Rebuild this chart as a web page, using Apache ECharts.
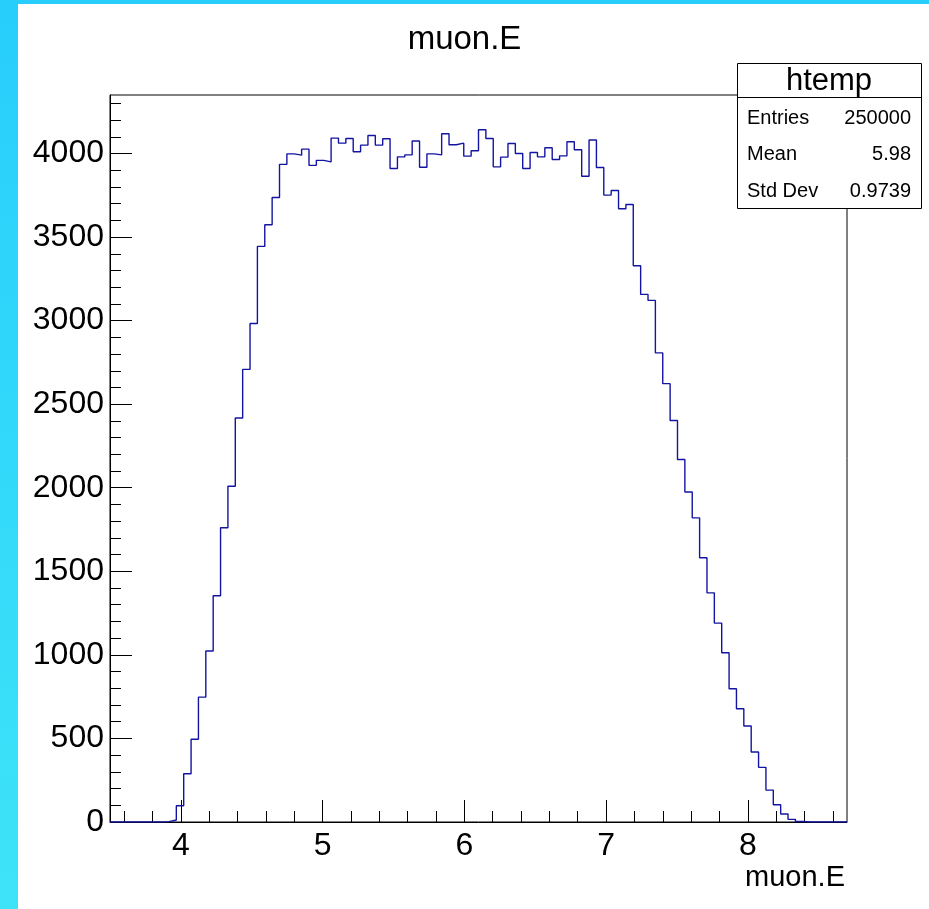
<!DOCTYPE html>
<html>
<head>
<meta charset="utf-8">
<title>muon.E</title>
<script src="https://cdn.jsdelivr.net/npm/echarts@6/dist/echarts.min.js"></script>
<style>
  html, body { margin: 0; padding: 0; background: #ffffff; }
  #chart { width: 929px; height: 909px; }
</style>
</head>
<body>
<div id="chart"></div>
<script>
// Histogram binning: 100 bins from 3.5 to 8.7
const binLow = 3.5;
const binWidth = 0.052;
const xMin = 3.5;
const xMax = 8.7;
const yMin = 0;
const yMax = 4350;

// Bin contents of htemp (muon.E)
const counts = [
  0, 0, 0, 0, 0, 0, 0, 2, 12, 97,
  289, 495, 747, 1023, 1354, 1761, 2009, 2417, 2708, 2983,
  3444, 3574, 3737, 3935, 3998, 3990, 4026, 3929, 3959, 3950,
  4092, 4062, 4090, 4010, 4050, 4108, 4050, 4088, 3910, 3980,
  3992, 4075, 3918, 3998, 3992, 4118, 4052, 4062, 3984, 4016,
  4142, 4090, 3920, 3978, 4060, 4000, 3910, 4006, 3980, 4034,
  3964, 3986, 4070, 4022, 3864, 4081, 3916, 3751, 3779, 3669,
  3695, 3328, 3157, 3121, 2807, 2623, 2402, 2169, 1975, 1820,
  1581, 1371, 1190, 1013, 797, 678, 574, 419, 327, 191,
  103, 48, 16, 3, 0, 0, 0, 0, 0, 0
];

// Axis tick labels
const xTickLabels = [4, 5, 6, 7, 8];
const yTickLabels = [0, 500, 1000, 1500, 2000, 2500, 3000, 3500, 4000];

// Statistics box contents
const statsTitle = 'htemp';
const statsNames = ['Entries', 'Mean', 'Std Dev'];
const statsValues = ['250000', '5.98', '0.9739'];

// Minor tick positions between the labelled ticks
const xMinorTicks = [];
for (let k = 18; k <= 43; k++) {
  const v = +(k * 0.2).toFixed(1);
  if (v > xMin && v < xMax && Math.abs(v - Math.round(v)) > 1e-6) xMinorTicks.push(v);
}
const yMinorTicks = [];
for (let v = 100; v < yMax; v += 100) {
  if (v % 500 !== 0) yMinorTicks.push(v);
}

// Step outline: one point per bin low edge, plus the closing upper edge
const histPoints = counts.map((c, i) => [+(binLow + i * binWidth).toFixed(4), c]);
histPoints.push([+(binLow + counts.length * binWidth).toFixed(4), counts[counts.length - 1]]);

const FONT = '"Liberation Sans", Arial, Helvetica, sans-serif';

const chart = echarts.init(document.getElementById('chart'), null, { renderer: 'canvas' });

const gridBox = { left: 110, top: 95, right: 82, bottom: 87 };

const statsRows = statsNames.map((name, i) => ([
  {
    type: 'text', x: 747, y: 118 + i * 36.5, z: 12,
    style: { text: name, font: '20px ' + FONT, fill: '#000', align: 'left', verticalAlign: 'middle' }
  },
  {
    type: 'text', x: 911, y: 118 + i * 36.5, z: 12,
    style: { text: statsValues[i], font: '20px ' + FONT, fill: '#000', align: 'right', verticalAlign: 'middle' }
  }
])).flat();

chart.setOption({
  animation: false,
  backgroundColor: '#ffffff',
  title: {
    text: 'muon.E',
    left: 'center',
    top: 18,
    textStyle: { fontFamily: FONT, fontSize: 33, fontWeight: 'normal', color: '#000' }
  },
  grid: Object.assign({ show: true, borderColor: '#000', borderWidth: 1, backgroundColor: 'transparent' }, gridBox),
  xAxis: [
    {
      type: 'value', min: xMin, max: xMax, position: 'bottom',
      name: 'muon.E', nameLocation: 'end', nameGap: -2,
      nameTextStyle: { fontFamily: FONT, fontSize: 29, color: '#000', align: 'right', verticalAlign: 'top', padding: [41, 0, 0, 0] },
      axisLine: { show: true, onZero: false, lineStyle: { color: '#000', width: 1 } },
      axisTick: { show: true, inside: true, length: 22, customValues: xTickLabels, lineStyle: { color: '#000', width: 1 } },
      axisLabel: { show: true, customValues: xTickLabels, margin: 8, fontFamily: FONT, fontSize: 32, color: '#000', formatter: v => String(v) },
      splitLine: { show: false }
    },
    {
      type: 'value', min: xMin, max: xMax, position: 'bottom',
      axisLine: { show: false },
      axisTick: { show: true, inside: true, length: 11, customValues: xMinorTicks, lineStyle: { color: '#000', width: 1 } },
      axisLabel: { show: false },
      splitLine: { show: false }
    }
  ],
  yAxis: [
    {
      type: 'value', min: yMin, max: yMax, position: 'left',
      axisLine: { show: true, onZero: false, lineStyle: { color: '#000', width: 1 } },
      axisTick: { show: true, inside: true, length: 22, customValues: yTickLabels, lineStyle: { color: '#000', width: 1 } },
      axisLabel: { show: true, customValues: yTickLabels, margin: 6, fontFamily: FONT, fontSize: 32, color: '#000', formatter: v => String(v) },
      splitLine: { show: false }
    },
    {
      type: 'value', min: yMin, max: yMax, position: 'left',
      axisLine: { show: false },
      axisTick: { show: true, inside: true, length: 11, customValues: yMinorTicks, lineStyle: { color: '#000', width: 1 } },
      axisLabel: { show: false },
      splitLine: { show: false }
    }
  ],
  series: [
    {
      type: 'line',
      xAxisIndex: 0,
      yAxisIndex: 0,
      step: 'end',
      data: histPoints,
      symbol: 'none',
      lineStyle: { color: '#1414a2', width: 1.4 },
      z: 5
    }
  ],
  graphic: [
    // pad frame colours
    {
      type: 'rect', left: 0, top: 0, z: -10, silent: true,
      shape: { width: 18, height: 909 },
      style: {
        fill: new echarts.graphic.LinearGradient(0, 0, 0, 1, [
          { offset: 0, color: '#28cefb' },
          { offset: 1, color: '#3ee3f8' }
        ])
      }
    },
    {
      type: 'rect', left: 0, top: 0, z: -10, silent: true,
      shape: { width: 929, height: 4 },
      style: { fill: '#28cefb' }
    },
    // statistics box
    {
      type: 'rect', x: 737, y: 63, z: 11,
      shape: { x: 0.5, y: 0.5, width: 184, height: 145 },
      style: { fill: '#fff', stroke: '#000', lineWidth: 1 }
    },
    {
      type: 'line', z: 12,
      shape: { x1: 737, y1: 97.5, x2: 921, y2: 97.5 },
      style: { stroke: '#000', lineWidth: 1 }
    },
    {
      type: 'text', x: 829, y: 81, z: 12,
      style: { text: statsTitle, font: '31px ' + FONT, fill: '#000', align: 'center', verticalAlign: 'middle' }
    }
  ].concat(statsRows)
});
</script>
</body>
</html>
